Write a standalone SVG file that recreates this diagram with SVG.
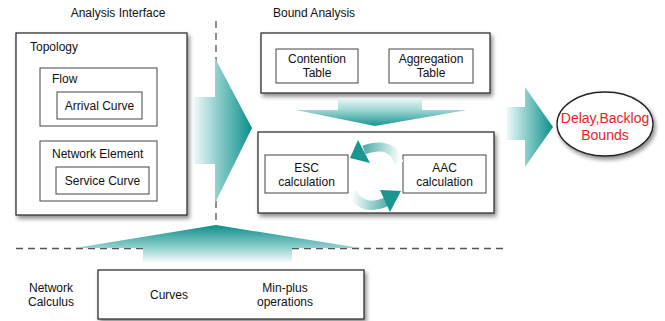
<svg xmlns="http://www.w3.org/2000/svg" width="665" height="321" viewBox="0 0 665 321">
<defs>
<style>
.box{fill:#fff;stroke:#333;stroke-width:1.3}
.sub{fill:#fff;stroke:#444;stroke-width:1}
.t{font-family:"Liberation Sans",Arial,sans-serif;font-size:12px;fill:#111}
.c{text-anchor:middle}
.red{font-size:14px;fill:#e8231f}
.dash{stroke:#555;stroke-width:1.3;stroke-dasharray:7,5;fill:none}
</style>
<filter id="sh" x="-10%" y="-10%" width="125%" height="130%">
<feDropShadow dx="2" dy="3" stdDeviation="2" flood-color="#000" flood-opacity="0.45"/>
</filter>
<linearGradient id="gR" x1="0" y1="0" x2="1" y2="0">
<stop offset="0" stop-color="#eef8f8"/>
<stop offset="0.4" stop-color="#8fcfcd"/>
<stop offset="1" stop-color="#0b8f8a"/>
</linearGradient>
<linearGradient id="gD" x1="0" y1="0" x2="0" y2="1">
<stop offset="0" stop-color="#eef8f8"/>
<stop offset="0.45" stop-color="#9ad4d2"/>
<stop offset="1" stop-color="#1a9591"/>
</linearGradient>
<linearGradient id="gU" x1="0" y1="0" x2="0" y2="1">
<stop offset="0" stop-color="#0b8f8a"/>
<stop offset="0.6" stop-color="#8fcfcd"/>
<stop offset="1" stop-color="#f2fafa"/>
</linearGradient>
<linearGradient id="gTop" gradientUnits="userSpaceOnUse" x1="400" y1="160" x2="352" y2="155">
<stop offset="0" stop-color="#ffffff"/>
<stop offset="1" stop-color="#1a9591"/>
</linearGradient>
<linearGradient id="gBot" gradientUnits="userSpaceOnUse" x1="352" y1="190" x2="400" y2="195">
<stop offset="0" stop-color="#ffffff"/>
<stop offset="1" stop-color="#1a9591"/>
</linearGradient>
</defs>

<rect width="665" height="321" fill="#fff"/>

<g id="labels">
<text class="t c" x="118" y="17">Analysis Interface</text>
<text class="t" x="273" y="17">Bound Analysis</text>
<text class="t c" x="51" y="292">Network</text>
<text class="t c" x="51" y="306">Calculus</text>
</g>

<g id="dividers">
<line class="dash" x1="216" y1="21" x2="216" y2="250"/>
<line class="dash" x1="16" y1="248.5" x2="504" y2="248.5"/>
</g>

<g id="topology">
<rect class="box" x="16" y="33" width="171" height="182" filter="url(#sh)"/>
<text class="t" x="30" y="51">Topology</text>
</g>
<g id="flow">
<rect class="sub" x="40" y="68" width="117" height="58"/>
<text class="t" x="52" y="83">Flow</text>
</g>
<g id="arrival-curve">
<rect class="sub" x="57" y="92" width="85" height="27"/>
<text class="t c" x="99.5" y="110">Arrival Curve</text>
</g>
<g id="network-element">
<rect class="sub" x="40" y="141" width="117" height="60"/>
<text class="t" x="52" y="158">Network Element</text>
</g>
<g id="service-curve">
<rect class="sub" x="56" y="167" width="93" height="27"/>
<text class="t c" x="102.5" y="185">Service Curve</text>
</g>

<g id="tables">
<rect class="box" x="261" y="33" width="229" height="60" filter="url(#sh)"/>
</g>
<g id="contention-table">
<rect class="sub" x="276" y="49" width="82" height="34"/>
<text class="t c" x="317" y="63">Contention</text>
<text class="t c" x="317" y="77">Table</text>
</g>
<g id="aggregation-table">
<rect class="sub" x="389" y="49" width="84" height="34"/>
<text class="t c" x="431" y="63">Aggregation</text>
<text class="t c" x="431" y="77">Table</text>
</g>

<g id="calculation">
<rect class="box" x="258" y="132" width="236" height="81" filter="url(#sh)"/>
</g>
<g id="esc">
<rect class="sub" x="265" y="155" width="83" height="38"/>
<text class="t c" x="306.5" y="172">ESC</text>
<text class="t c" x="306.5" y="186">calculation</text>
</g>
<g id="aac">
<rect class="sub" x="403" y="155" width="83" height="38"/>
<text class="t c" x="444.5" y="172">AAC</text>
<text class="t c" x="444.5" y="186">calculation</text>
</g>

<g id="bounds">
<ellipse cx="605" cy="124" rx="48" ry="32" fill="#fff" stroke="#222" stroke-width="1.3" filter="url(#sh)"/>
<text class="t c red" x="605" y="123">Delay,Backlog</text>
<text class="t c red" x="605" y="140">Bounds</text>
</g>

<g id="network-calculus">
<rect class="box" x="98" y="270" width="266" height="49" filter="url(#sh)"/>
<text class="t c" x="169" y="299">Curves</text>
<text class="t c" x="285" y="292">Min-plus</text>
<text class="t c" x="285" y="306">operations</text>
</g>

<g id="connectors">
<polygon points="194,97 215,97 215,58 252,128 215,203 215,164 194,164" fill="url(#gR)"/>
<polygon points="338,98 422,98 422,110 467,110 375,126 296,110 338,110" fill="url(#gD)"/>
<polygon points="507,107 525,107 525,87 553,127 525,167 525,140 507,140" fill="url(#gR)"/>
<polygon points="216,225 360,248 292,248 292,262 143,262 143,248 75,248" fill="url(#gU)"/>
<path d="M399,163 Q392,140 364,150" fill="none" stroke="url(#gTop)" stroke-width="9"/>
<polygon points="350,158 358,140 370,163" fill="#1a9591"/>
<path d="M352,192 Q362,212 386,202" fill="none" stroke="url(#gBot)" stroke-width="9"/>
<polygon points="401,191 380,190 390,212" fill="#1a9591"/>
</g>
</svg>
